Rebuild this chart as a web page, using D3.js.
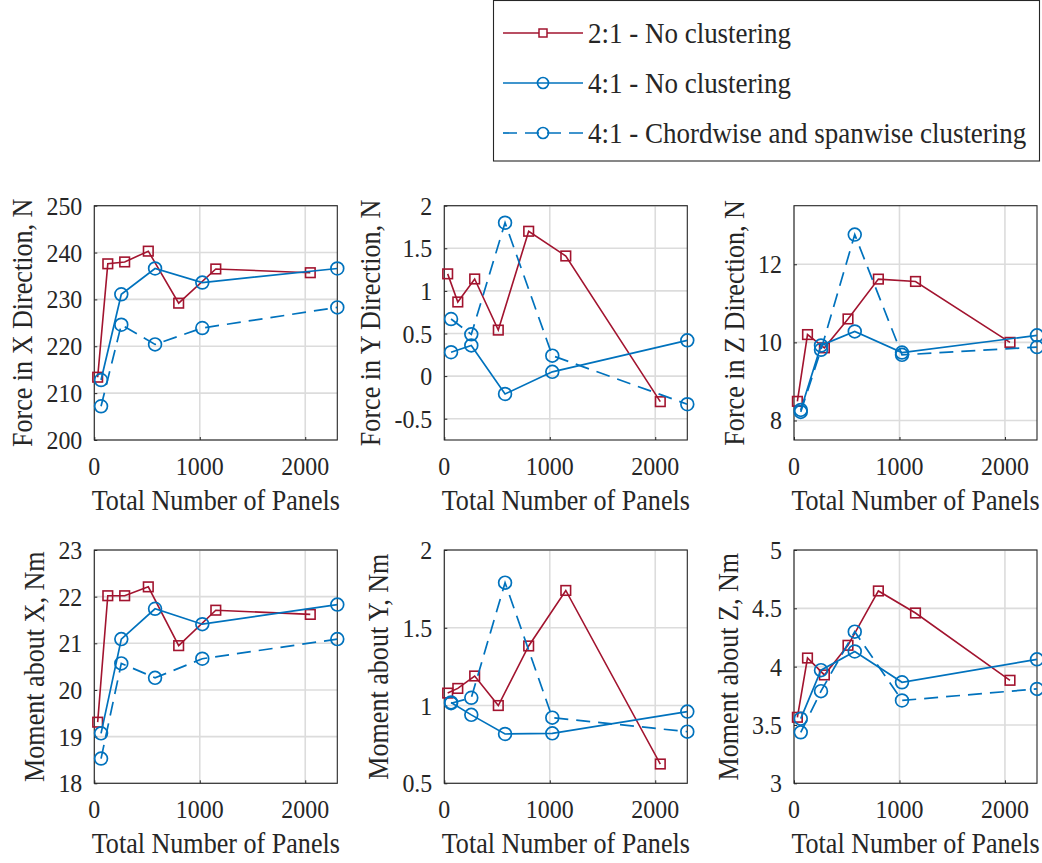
<!DOCTYPE html>
<html><head><meta charset="utf-8">
<script src="https://cdn.jsdelivr.net/npm/d3@7"></script>
<style>body{margin:0;background:#fff}svg{display:block}</style>
</head><body>
<svg id="chart" width="1042" height="863"></svg>
<script>
// ---- data ----
const seriesNames = ["2:1 - No clustering", "4:1 - No clustering", "4:1 - Chordwise and spanwise clustering"];
const xRed  = [32, 128, 288, 512, 800, 1152, 2048];
const xBlue = [64, 256, 576, 1024, 2304];
const xTicks = [0, 1000, 2000];

const fxRed    = [213.4, 237.6, 238.0, 240.3, 229.2, 236.5, 235.7];
const fxSolid  = [212.8, 231.1, 236.6, 233.6, 236.6];
const fxDashed = [207.2, 224.6, 220.4, 223.9, 228.3];
const fxTicks  = [200, 210, 220, 230, 240, 250];

const fyRed    = [1.20, 0.87, 1.14, 0.54, 1.70, 1.41, -0.30];
const fySolid  = [0.28, 0.36, -0.21, 0.05, 0.42];
const fyDashed = [0.67, 0.49, 1.80, 0.24, -0.33];
const fyTicks  = [-0.5, 0, 0.5, 1, 1.5, 2];

const fzRed    = [8.49, 10.20, 9.86, 10.60, 11.62, 11.56, 10.00];
const fzSolid  = [8.27, 9.92, 10.28, 9.74, 10.18];
const fzDashed = [8.22, 9.81, 12.76, 9.68, 9.88];
const fzTicks  = [8, 10, 12];

const mxRed    = [19.31, 22.02, 22.02, 22.21, 20.95, 21.71, 21.62];
const mxSolid  = [19.07, 21.09, 21.74, 21.41, 21.83];
const mxDashed = [18.53, 20.57, 20.26, 20.67, 21.09];
const mxTicks  = [18, 19, 20, 21, 22, 23];

const myRed    = [1.08, 1.11, 1.19, 1.00, 1.383, 1.74, 0.624];
const mySolid  = [1.02, 0.94, 0.817, 0.821, 0.961];
const myDashed = [1.015, 1.05, 1.79, 0.922, 0.832];
const myTicks  = [0.5, 1, 1.5, 2];

const mzRed    = [3.566, 4.074, 3.929, 4.183, 4.649, 4.46, 3.883];
const mzSolid  = [3.554, 3.97, 4.13, 3.866, 4.063];
const mzDashed = [3.437, 3.79, 4.30, 3.71, 3.809];
const mzTicks  = [3, 3.5, 4, 4.5, 5];

const panels = [
  {label:"Force in X Direction, N", red:fxRed, solid:fxSolid, dashed:fxDashed, ticks:fxTicks, dom:[200,250], col:0, row:0},
  {label:"Force in Y Direction, N", red:fyRed, solid:fySolid, dashed:fyDashed, ticks:fyTicks, dom:[-0.75,2], col:1, row:0},
  {label:"Force in Z Direction, N", red:fzRed, solid:fzSolid, dashed:fzDashed, ticks:fzTicks, dom:[7.5,13.5], col:2, row:0},
  {label:"Moment about X, Nm", red:mxRed, solid:mxSolid, dashed:mxDashed, ticks:mxTicks, dom:[18,23], col:0, row:1},
  {label:"Moment about Y, Nm", red:myRed, solid:mySolid, dashed:myDashed, ticks:myTicks, dom:[0.5,2], col:1, row:1},
  {label:"Moment about Z, Nm", red:mzRed, solid:mzSolid, dashed:mzDashed, ticks:mzTicks, dom:[3,5], col:2, row:1}
];

// ---- style ----
const RED = "#A2142F", BLUE = "#0072BD", AX = "#262626", GRID = "#dcdcdc";
const FONT = "'Liberation Serif','Times New Roman',serif";
const SX = 0.9;
const colX = [94.3, 444.3, 794];
const rowY = [205.7, 550];
const PW = 243, PH = [234.3, 233.3];
const DASH = "14,8";

const svg = d3.select("#chart");
svg.append("rect").attr("width",1042).attr("height",863).attr("fill","#fff");

function txt(g, x, y, s, size, anchor, rot, sx){
  return g.append("text")
    .attr("transform", `translate(${x},${y})${rot?" rotate(-90)":""} scale(${sx||SX},1)`)
    .attr("font-family", FONT).attr("font-size", size)
    .attr("text-anchor", anchor).attr("fill", AX).text(s);
}
const fmt = d => String(d);

function marker(g, type, cx, cy, color){
  if(type==="sq"){
    g.append("rect").attr("x",cx-4.8).attr("y",cy-4.8).attr("width",9.6).attr("height",9.6)
      .attr("fill","none").attr("stroke",color).attr("stroke-width",1.6);
  } else {
    g.append("circle").attr("cx",cx).attr("cy",cy).attr("r",6.4)
      .attr("fill","none").attr("stroke",color).attr("stroke-width",1.7);
  }
}

panels.forEach(p => {
  const L = colX[p.col], T = rowY[p.row], H = PH[p.row];
  const x = d3.scaleLinear().domain([0,2304]).range([L, L+PW]);
  const y = d3.scaleLinear().domain(p.dom).range([T+H, T]);
  const g = svg.append("g");

  // grid
  g.selectAll(".gy").data(p.ticks).join("line")
    .attr("x1",L).attr("x2",L+PW).attr("y1",d=>y(d)).attr("y2",d=>y(d))
    .attr("stroke",GRID).attr("stroke-width",1.6);
  g.selectAll(".gx").data(xTicks).join("line")
    .attr("y1",T).attr("y2",T+H).attr("x1",d=>x(d)).attr("x2",d=>x(d))
    .attr("stroke",GRID).attr("stroke-width",1.6);

  // axes with inward ticks
  const ab = g.append("g").attr("transform",`translate(0,${T+H})`)
    .call(d3.axisBottom(x).tickValues(xTicks).tickSize(-3).tickSizeOuter(0).tickFormat(""));
  const al = g.append("g").attr("transform",`translate(${L},0)`)
    .call(d3.axisLeft(y).tickValues(p.ticks).tickSize(-3).tickSizeOuter(0).tickFormat(""));
  [ab, al].forEach(a => { a.selectAll("line,path").attr("stroke",AX); a.select(".domain").remove(); });
  g.append("rect").attr("x",L).attr("y",T).attr("width",PW).attr("height",H)
    .attr("fill","none").attr("stroke",AX).attr("stroke-width",1.1);

  // tick labels
  xTicks.forEach(v => txt(g, x(v), T+H+35, fmt(v), 26, "middle", false, 0.92));
  const yl = [];
  p.ticks.forEach(v => yl.push(txt(g, L-12, y(v)+9, fmt(v), 26, "end", false, 0.92)));
  const minLeft = d3.min(yl, t => t.node().getBoundingClientRect().left);

  // labels
  txt(g, L+PW/2, T+H+70, "Total Number of Panels", 29, "middle", false);
  txt(g, minLeft-14, T+H/2, p.label, 29, "middle", true);

  // data
  const line = d3.line().x(d=>x(d[0])).y(d=>y(d[1]));
  const sets = [
    {xs:xRed, ys:p.red, color:RED, m:"sq", dash:null, w:1.6},
    {xs:xBlue, ys:p.solid, color:BLUE, m:"ci", dash:null, w:1.7},
    {xs:xBlue, ys:p.dashed, color:BLUE, m:"ci", dash:DASH, w:1.7}
  ];
  sets.forEach(s => {
    const pts = s.xs.map((xv,i)=>[xv, s.ys[i]]);
    g.append("path").attr("d", line(pts)).attr("fill","none").attr("stroke",s.color)
      .attr("stroke-width",s.w).attr("stroke-dasharray",s.dash);
    pts.forEach(d => marker(g, s.m, x(d[0]), y(d[1]), s.color));
  });
});

// legend
const lg = svg.append("g");
lg.append("rect").attr("x",493.5).attr("y",0.5).attr("width",546).attr("height",160.5)
  .attr("fill","#fff").attr("stroke",AX).attr("stroke-width",1.1);
const legRows = [33, 83, 133];
const legStyle = [{c:RED,m:"sq",d:null},{c:BLUE,m:"ci",d:null},{c:BLUE,m:"ci",d:DASH}];
seriesNames.forEach((n,i) => {
  const yy = legRows[i], st = legStyle[i];
  lg.append("line").attr("x1",503).attr("x2",583).attr("y1",yy).attr("y2",yy)
    .attr("stroke",st.c).attr("stroke-width",1.7).attr("stroke-dasharray",st.d);
  if(st.m==="sq"){
    lg.append("rect").attr("x",543-4).attr("y",yy-4).attr("width",8).attr("height",8)
      .attr("fill","#fff").attr("stroke",st.c).attr("stroke-width",1.5);
  } else {
    lg.append("circle").attr("cx",543).attr("cy",yy).attr("r",5.5)
      .attr("fill","none").attr("stroke",st.c).attr("stroke-width",1.7);
  }
  txt(lg, 588, yy+9.5, n, 30, "start", false);
});
</script>
</body></html>
